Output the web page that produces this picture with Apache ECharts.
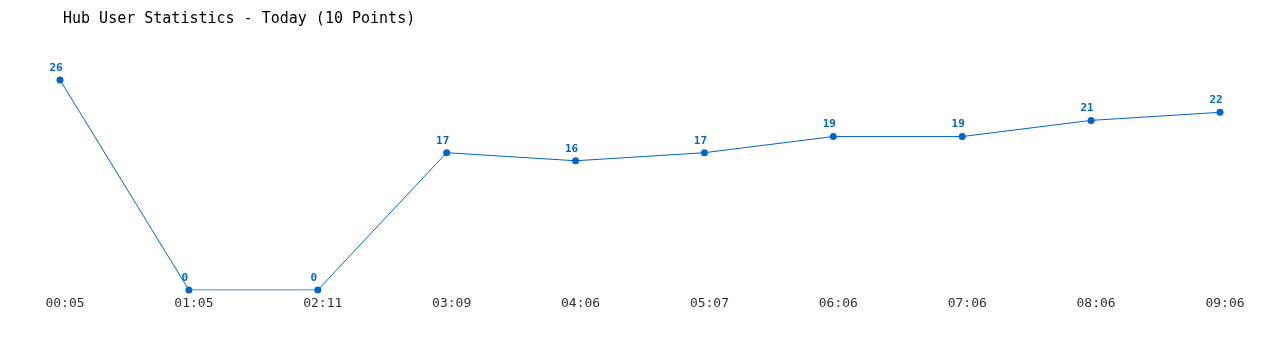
<!DOCTYPE html>
<html>
<head>
<meta charset="utf-8">
<script src="https://cdn.jsdelivr.net/npm/echarts@6/dist/echarts.min.js"></script>
<style>html,body{margin:0;padding:0;background:#fff;}#c{width:1280px;height:350px;}</style>
</head>
<body>
<div id="c"></div>
<script>
const titleText = 'Hub User Statistics - Today (10 Points)';
const categories = ['00:05','01:05','02:11','03:09','04:06','05:07','06:06','07:06','08:06','09:06'];
const users = [26, 0, 0, 17, 16, 17, 19, 19, 21, 22];

const chart = echarts.init(document.getElementById('c'), null, {renderer: 'canvas'});
chart.setOption({
  animation: false,
  backgroundColor: '#ffffff',
  title: {
    text: titleText,
    left: 58, top: 7,
    textStyle: {fontFamily: 'DejaVu Sans Mono', fontSize: 15, fontWeight: 'normal', color: '#000'}
  },
  grid: {left: 60, right: 60, top: 80, bottom: 60},
  xAxis: {
    type: 'category',
    data: categories,
    boundaryGap: false,
    axisLine: {show: false},
    axisTick: {show: false},
    splitLine: {show: false},
    axisLabel: {
      fontFamily: 'DejaVu Sans Mono', fontSize: 13, color: '#333',
      margin: 7, padding: [0, 0, 0, 10]
    }
  },
  yAxis: {
    type: 'value', min: 0, max: 26,
    show: false
  },
  series: [{
    type: 'line',
    data: users,
    symbol: 'circle',
    symbolSize: 7,
    lineStyle: {color: '#0066cc', width: 1},
    itemStyle: {color: '#0066cc'},
    label: {
      show: true, position: 'top', distance: 3,
      offset: [-4, 0],
      fontFamily: 'DejaVu Sans Mono', fontSize: 11, fontWeight: 'bold', color: '#0066cc'
    }
  }]
});
</script>
</body>
</html>
